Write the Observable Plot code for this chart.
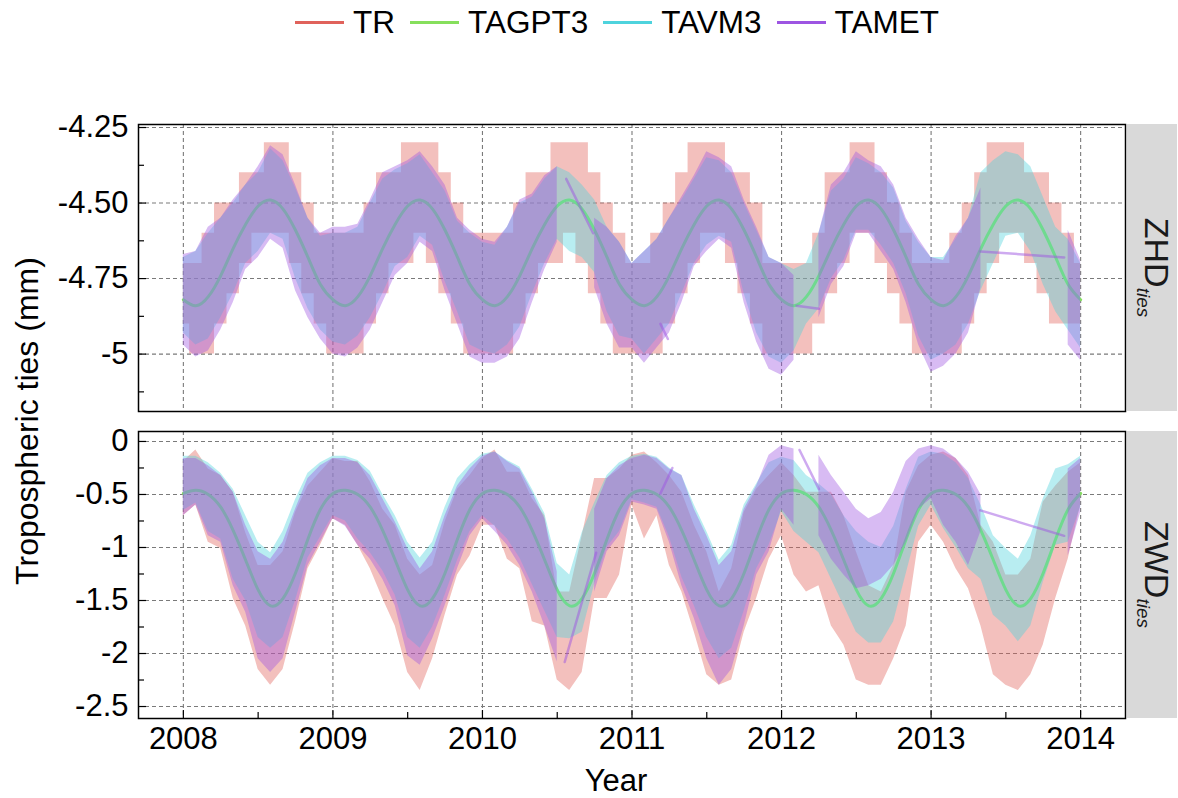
<!DOCTYPE html>
<html>
<head>
<meta charset="utf-8">
<script src="https://cdn.jsdelivr.net/npm/d3@7"></script>
<script src="https://cdn.jsdelivr.net/npm/@observablehq/plot@0.6"></script>
<style>
  body { margin: 0; background: #fff; }
  #wrap { position: relative; width: 1178px; height: 798px; overflow: hidden;
          font-family: "Liberation Sans", Arial, Helvetica, sans-serif; color: #000; }
  #legend { position: absolute; top: 4px; left: 295px; height: 36px; display: flex; align-items: center;
            font-size: 31.5px; white-space: nowrap; }
  #legend .sw { width: 49px; height: 3px; margin-right: 9px; }
  #legend .lb { margin-right: 15px; line-height: 36px; }
  svg.panel { position: absolute; left: 0; }
  #overlay { position: absolute; left: 0; top: 0; pointer-events: none; }
</style>
</head>
<body>
<div id="wrap">
  <div id="legend"></div>
</div>
<script>
// ---------------- data ----------------
const seriesNames = ["TR", "TAGPT3", "TAVM3", "TAMET"];
const seriesColors = ["#E0625B", "#86DF5C", "#4ED3DD", "#9D55E2"];

// monthly time index 2008.0 ... 2014.0
const months = d3.range(73).map(k => 2008 + k / 12);

const xTicks = [2008, 2009, 2010, 2011, 2012, 2013, 2014];
const xMinor = [2008.5, 2009.5, 2010.5, 2011.5, 2012.5, 2013.5];

const zhdTicks = [-4.25, -4.5, -4.75, -5];
const zhdTickLabels = ["-4.25", "-4.50", "-4.75", "-5"];
const zhdMinor = [-4.375, -4.625, -4.875, -5.125];

const zwdTicks = [0, -0.5, -1, -1.5, -2, -2.5];
const zwdTickLabels = ["0", "-0.5", "-1", "-1.5", "-2", "-2.5"];
const zwdMinor = [-0.25, -0.75, -1.25, -1.75, -2.25];

// ---- ZHD ties ----
const zhdGPT3 = [
  -4.82,-4.84,-4.81,-4.74,-4.65,-4.57,-4.51,-4.49,-4.52,-4.59,-4.68,-4.77,
  -4.82,-4.84,-4.81,-4.74,-4.65,-4.57,-4.51,-4.49,-4.52,-4.59,-4.68,-4.77,
  -4.82,-4.84,-4.81,-4.74,-4.65,-4.57,-4.51,-4.49,-4.52,-4.59,-4.68,-4.77,
  -4.82,-4.84,-4.81,-4.74,-4.65,-4.57,-4.51,-4.49,-4.52,-4.59,-4.68,-4.77,
  -4.82,-4.84,-4.81,-4.74,-4.65,-4.57,-4.51,-4.49,-4.52,-4.59,-4.68,-4.77,
  -4.82,-4.84,-4.81,-4.74,-4.65,-4.57,-4.51,-4.49,-4.52,-4.59,-4.68,-4.77,
  -4.82];
const zhdTRhi = [
  -4.7,-4.7,-4.6,-4.5,-4.5,-4.4,-4.4,-4.3,-4.3,-4.4,-4.5,-4.6,
  -4.6,-4.6,-4.6,-4.5,-4.4,-4.4,-4.3,-4.3,-4.3,-4.4,-4.5,-4.6,
  -4.6,-4.6,-4.6,-4.5,-4.4,-4.4,-4.3,-4.3,-4.3,-4.4,-4.5,-4.6,
  -4.7,-4.7,-4.6,-4.5,-4.4,-4.3,-4.3,-4.3,-4.4,-4.4,-4.5,-4.7,
  -4.7,-4.7,-4.7,-4.6,-4.4,-4.4,-4.3,-4.3,-4.4,-4.5,-4.6,-4.7,
  -4.7,-4.7,-4.6,-4.5,-4.4,-4.3,-4.3,-4.3,-4.4,-4.4,-4.5,-4.6,
  -4.7];
const zhdTRlo = [
  -4.9,-5.0,-5.0,-4.9,-4.8,-4.7,-4.6,-4.6,-4.6,-4.7,-4.8,-4.9,
  -5.0,-5.0,-5.0,-4.9,-4.8,-4.7,-4.7,-4.6,-4.7,-4.8,-4.9,-5.0,
  -5.0,-5.0,-5.0,-4.9,-4.8,-4.7,-4.7,-4.6,-4.7,-4.8,-4.9,-5.0,
  -5.0,-5.0,-5.0,-4.9,-4.8,-4.7,-4.6,-4.6,-4.7,-4.8,-4.9,-5.0,
  -5.0,-5.0,-5.0,-4.9,-4.8,-4.7,-4.6,-4.6,-4.7,-4.8,-4.9,-5.0,
  -5.0,-5.0,-5.0,-4.9,-4.8,-4.7,-4.6,-4.6,-4.7,-4.8,-4.9,-4.9,
  -4.9];
const zhdVM3hi = [
  -4.68,-4.66,-4.60,-4.55,-4.50,-4.44,-4.40,-4.32,-4.36,-4.45,-4.55,-4.61,
  -4.60,-4.60,-4.58,-4.50,-4.42,-4.39,-4.37,-4.34,-4.40,-4.46,-4.56,-4.60,
  -4.63,-4.64,-4.58,-4.50,-4.48,-4.42,-4.38,-4.40,-4.44,-4.49,-4.58,-4.63,
  -4.70,-4.66,-4.62,-4.55,-4.49,-4.42,-4.35,-4.36,-4.40,-4.50,-4.59,-4.68,
  -4.70,-4.72,-4.70,-4.60,-4.46,-4.42,-4.35,-4.37,-4.40,-4.45,-4.56,-4.63,
  -4.68,-4.68,-4.62,-4.55,-4.40,-4.36,-4.33,-4.34,-4.38,-4.48,-4.58,-4.62,
  -4.70];
const zhdVM3lo = [
  -4.93,-4.97,-4.95,-4.88,-4.80,-4.70,-4.66,-4.60,-4.62,-4.75,-4.85,-4.92,
  -4.96,-4.97,-4.94,-4.88,-4.80,-4.71,-4.68,-4.61,-4.64,-4.76,-4.86,-4.97,
  -4.99,-5.00,-4.97,-4.91,-4.80,-4.70,-4.62,-4.66,-4.68,-4.73,-4.86,-4.94,
  -4.95,-5.00,-4.95,-4.90,-4.80,-4.70,-4.64,-4.61,-4.63,-4.80,-4.93,-5.01,
  -5.03,-4.99,-4.90,-4.85,-4.75,-4.69,-4.59,-4.59,-4.64,-4.70,-4.80,-4.94,
  -5.02,-5.00,-4.97,-4.90,-4.79,-4.70,-4.61,-4.60,-4.66,-4.77,-4.86,-4.92,
  -4.98];
const zhdMEThi = [
  -4.67,-4.66,-4.58,-4.55,-4.49,-4.44,-4.38,-4.31,-4.34,-4.44,-4.55,-4.60,
  -4.58,-4.58,-4.57,-4.49,-4.40,-4.38,-4.36,-4.33,-4.38,-4.44,-4.55,-4.59,
  -4.62,-4.63,-4.58,-4.49,-4.47,-4.41,-4.38,null,null,-4.55,-4.58,-4.63,
  -4.70,-4.66,-4.62,-4.55,-4.48,-4.41,-4.33,-4.35,-4.38,-4.49,-4.58,-4.68,
  -4.70,-4.74,null,-4.60,-4.44,-4.40,-4.33,-4.36,-4.38,-4.44,-4.55,-4.62,
  -4.68,-4.69,-4.61,-4.55,-4.45,null,null,null,null,null,null,-4.59,
  -4.69];
const zhdMETlo = [
  -4.97,-5.01,-4.99,-4.92,-4.83,-4.72,-4.68,-4.62,-4.65,-4.79,-4.88,-4.95,
  -5.00,-5.01,-4.98,-4.92,-4.83,-4.74,-4.70,-4.63,-4.66,-4.79,-4.90,-5.01,
  -5.03,-5.03,-5.01,-4.95,-4.83,-4.72,-4.63,null,null,-4.78,-4.90,-4.98,
  -4.98,-5.03,-4.98,-4.93,-4.83,-4.71,-4.66,-4.62,-4.65,-4.83,-4.96,-5.05,
  -5.07,-5.02,null,-4.88,-4.77,-4.71,-4.60,-4.60,-4.66,-4.72,-4.83,-4.97,
  -5.06,-5.04,-5.00,-4.93,-4.78,null,null,null,null,null,null,-4.97,
  -5.02];
// straight TAMET segments bridging its data gaps
const zhdGapT = [2010.56, 2010.74, 2011.19, 2011.24, 2012.10, 2012.25, 2013.33, 2013.89];
const zhdGapV = [-4.42, -4.60, -4.90, -4.95, -4.84, -4.85, -4.66, -4.68];
const gapId   = [1, 1, 2, 2, 3, 3, 4, 4];

// ---- ZWD ties ----
const zwdGPT3 = [
  -0.49,-0.46,-0.50,-0.62,-0.84,-1.12,-1.40,-1.55,-1.48,-1.24,-0.92,-0.64,
  -0.49,-0.46,-0.50,-0.62,-0.84,-1.12,-1.40,-1.55,-1.48,-1.24,-0.92,-0.64,
  -0.49,-0.46,-0.50,-0.62,-0.84,-1.12,-1.40,-1.55,-1.48,-1.24,-0.92,-0.64,
  -0.49,-0.46,-0.50,-0.62,-0.84,-1.12,-1.40,-1.55,-1.48,-1.24,-0.92,-0.64,
  -0.49,-0.46,-0.50,-0.62,-0.84,-1.12,-1.40,-1.55,-1.48,-1.24,-0.92,-0.64,
  -0.49,-0.46,-0.50,-0.62,-0.84,-1.12,-1.40,-1.55,-1.48,-1.24,-0.92,-0.64,
  -0.49];
const zwdTRhi = [
  -0.19,-0.08,-0.26,-0.32,-0.48,-0.86,-1.17,-1.17,-1.04,-0.67,-0.42,-0.29,
  -0.16,-0.19,-0.19,-0.38,-0.64,-0.79,-1.11,-1.26,-1.17,-0.76,-0.45,-0.32,
  -0.16,-0.08,-0.29,-0.29,-0.54,-0.70,-1.42,-1.42,-0.89,-0.35,-0.35,-0.26,
  -0.13,-0.10,-0.20,-0.32,-0.48,-0.79,-1.04,-1.42,-1.20,-0.67,-0.45,-0.32,
  -0.20,-0.32,-0.48,-0.48,-0.48,-0.70,-1.04,-1.36,-1.42,-1.17,-0.48,-0.23,
  -0.13,-0.10,-0.16,-0.32,-0.79,-0.95,-1.26,-1.26,-1.11,-0.57,-0.42,-0.29,
  -0.20];
const zwdTRlo = [
  -0.70,-0.60,-0.95,-1.01,-1.48,-1.74,-2.15,-2.30,-2.15,-1.70,-1.20,-0.98,
  -0.73,-0.79,-0.98,-1.20,-1.48,-1.74,-2.18,-2.35,-2.05,-1.64,-1.26,-1.08,
  -0.79,-0.79,-1.11,-1.20,-1.70,-1.74,-2.25,-2.35,-2.18,-1.48,-1.48,-1.26,
  -0.60,-0.92,-0.70,-1.17,-1.42,-1.80,-2.20,-2.30,-2.25,-1.80,-1.48,-1.11,
  -0.89,-1.26,-1.42,-1.36,-1.74,-1.92,-2.25,-2.30,-2.30,-2.05,-1.74,-0.95,
  -0.79,-0.95,-1.20,-1.39,-1.74,-2.20,-2.30,-2.35,-2.20,-1.92,-1.48,-1.11,
  -0.60];
const zwdVM3hi = [
  -0.14,-0.14,-0.20,-0.30,-0.45,-0.70,-0.95,-1.05,-0.85,-0.55,-0.30,-0.20,
  -0.14,-0.14,-0.18,-0.28,-0.50,-0.70,-0.95,-1.10,-0.95,-0.62,-0.35,-0.22,
  -0.12,-0.10,-0.18,-0.24,-0.45,-0.68,-1.15,-1.26,-0.86,-0.58,-0.32,-0.20,
  -0.14,-0.12,-0.15,-0.25,-0.32,-0.60,-0.85,-1.12,-0.98,-0.60,-0.40,-0.20,
  -0.15,-0.18,-0.32,-0.40,-0.50,-0.70,-0.85,-0.95,-1.00,-0.80,-0.45,-0.15,
  -0.10,-0.12,-0.20,-0.35,-0.60,-0.89,-1.01,-1.11,-0.89,-0.54,-0.26,-0.22,
  -0.14];
const zwdVM3lo = [
  -0.65,-0.58,-0.85,-0.92,-1.30,-1.50,-1.85,-1.95,-1.85,-1.50,-1.10,-0.90,
  -0.70,-0.75,-0.92,-1.05,-1.22,-1.45,-1.85,-1.95,-1.75,-1.45,-1.12,-0.85,
  -0.70,-0.80,-0.92,-1.10,-1.35,-1.60,-1.85,-1.86,-1.80,-1.35,-1.00,-0.85,
  -0.55,-0.58,-0.62,-0.90,-1.28,-1.55,-1.85,-2.05,-1.95,-1.60,-1.20,-0.98,
  -0.66,-0.85,-0.95,-1.05,-1.30,-1.55,-1.80,-1.90,-1.90,-1.70,-1.25,-0.80,
  -0.60,-0.82,-1.00,-1.20,-1.30,-1.64,-1.74,-1.89,-1.74,-1.33,-0.98,-0.95,
  -0.62];
const zwdMEThi = [
  -0.16,-0.16,-0.23,-0.32,-0.48,-0.79,-1.04,-1.11,-0.95,-0.64,-0.35,-0.23,
  -0.16,-0.16,-0.20,-0.32,-0.54,-0.76,-1.01,-1.20,-1.04,-0.70,-0.42,-0.26,
  -0.14,-0.10,-0.19,-0.26,-0.48,-0.73,-1.23,null,null,-0.64,-0.35,-0.23,
  -0.16,-0.13,-0.16,-0.26,-0.32,-0.64,-0.89,-1.17,-1.04,-0.64,-0.42,-0.13,
  -0.04,-0.07,null,-0.13,-0.32,-0.48,-0.64,-0.73,-0.67,-0.48,-0.19,-0.07,
  -0.04,-0.07,-0.16,-0.29,-0.50,null,null,null,null,null,null,-0.26,
  -0.16];
const zwdMETlo = [
  -0.70,-0.60,-0.89,-0.95,-1.36,-1.61,-2.05,-2.18,-2.05,-1.61,-1.17,-0.95,
  -0.73,-0.80,-0.98,-1.11,-1.30,-1.55,-2.02,-2.11,-1.86,-1.55,-1.20,-0.89,
  -0.73,-0.85,-0.98,-1.17,-1.42,-1.74,-2.08,null,null,-1.42,-1.04,-0.89,
  -0.57,-0.60,-0.64,-0.95,-1.36,-1.67,-2.05,-2.30,-2.15,-1.74,-1.26,-1.04,
  -0.64,-0.79,null,-0.89,-1.11,-1.26,-1.39,-1.36,-1.30,-1.17,-0.95,-0.64,
  -0.54,-0.79,-0.95,-1.17,-0.85,null,null,null,null,null,null,-1.08,
  -0.67];
const zwdGapT = [2010.55, 2010.76, 2011.19, 2011.27, 2012.12, 2012.25, 2013.33, 2013.89];
const zwdGapV = [-2.08, -1.05, -0.49, -0.25, -0.08, -0.45, -0.65, -0.89];

// ---------------- build tables ----------------
function table(gpt, trLo, trHi, vmLo, vmHi, metLo, metHi) {
  return months.map((t, i) => ({
    t, gpt: gpt[i], trLo: trLo[i], trHi: trHi[i],
    vmLo: vmLo[i], vmHi: vmHi[i], metLo: metLo[i], metHi: metHi[i]
  }));
}
const zhdRows = table(zhdGPT3, zhdTRlo, zhdTRhi, zhdVM3lo, zhdVM3hi, zhdMETlo, zhdMEThi);
const zwdRows = table(zwdGPT3, zwdTRlo, zwdTRhi, zwdVM3lo, zwdVM3hi, zwdMETlo, zwdMEThi);
const zhdGaps = zhdGapT.map((t, i) => ({t, v: zhdGapV[i], id: gapId[i]}));
const zwdGaps = zwdGapT.map((t, i) => ({t, v: zwdGapV[i], id: gapId[i]}));

// ---------------- drawing ----------------
const W = 1178, ML = 138, MR = 53;
const FW = W - ML - MR;
const xDomain = [2007.7, 2014.3];
const col = Object.fromEntries(seriesNames.map((n, i) => [n, seriesColors[i]]));

function panel({rows, gaps, domain, ticks, labels, minor, height, mt, mb, showX, trCurve}) {
  const FH = height - mt - mb;
  const lab = new Map(ticks.map((d, i) => [d, labels[i]]));
  const marks = [
    Plot.ruleY(ticks, {stroke: "#7a7a7a", strokeWidth: 1.1, strokeDasharray: "4,3"}),
    Plot.ruleX(xTicks, {stroke: "#7a7a7a", strokeWidth: 1.1, strokeDasharray: "4,3"}),
    Plot.areaY(rows, {x: "t", y1: "trLo", y2: "trHi", fill: col.TR, fillOpacity: 0.4, curve: trCurve}),
    Plot.line(rows, {x: "t", y: "gpt", stroke: col.TAGPT3, strokeWidth: 3, curve: "natural"}),
    Plot.areaY(rows, {x: "t", y1: "vmLo", y2: "vmHi", fill: col.TAVM3, fillOpacity: 0.4}),
    Plot.areaY(rows, {x: "t", y1: "metLo", y2: "metHi", fill: col.TAMET, fillOpacity: 0.4}),
    Plot.line(gaps, {x: "t", y: "v", z: "id", stroke: col.TAMET, strokeOpacity: 0.5, strokeWidth: 2.5}),
    Plot.ruleY(ticks, {stroke: "#000", strokeWidth: 1.2, insetRight: FW - 8}),
    Plot.ruleY(minor, {stroke: "#000", strokeWidth: 1.2, insetRight: FW - 6}),
    Plot.axisY(ticks, {tickSize: 0, tickPadding: 10, tickFormat: d => lab.get(d), fontSize: 31, label: null})
  ];
  if (showX) {
    marks.push(
      Plot.ruleX(xTicks, {stroke: "#000", strokeWidth: 1.2, insetTop: FH - 8}),
      Plot.ruleX(xMinor, {stroke: "#000", strokeWidth: 1.2, insetTop: FH - 6}),
      Plot.axisX(xTicks, {tickSize: 0, tickPadding: 8, tickFormat: d => String(d), fontSize: 31, label: null})
    );
  }
  marks.push(Plot.frame({stroke: "#000", strokeWidth: 1.5}));
  return Plot.plot({
    width: W, height,
    marginLeft: ML, marginRight: MR, marginTop: mt, marginBottom: mb,
    x: showX ? {domain: xDomain} : {domain: xDomain, axis: null},
    y: {domain},
    style: {fontFamily: '"Liberation Sans", Arial, Helvetica, sans-serif', fontSize: "31px",
            background: "transparent", color: "#000", overflow: "visible"},
    marks
  });
}

const wrap = document.getElementById("wrap");

const p1 = panel({rows: zhdRows, gaps: zhdGaps, domain: [-5.19, -4.24], ticks: zhdTicks,
  labels: zhdTickLabels, minor: zhdMinor, height: 420, mt: 124, mb: 9, showX: false, trCurve: "step"});
p1.classList.add("panel"); p1.style.top = "0px";
wrap.appendChild(p1);

const p2 = panel({rows: zwdRows, gaps: zwdGaps, domain: [-2.613, 0.094], ticks: zwdTicks,
  labels: zwdTickLabels, minor: zwdMinor, height: 378, mt: 11, mb: 80, showX: true, trCurve: "linear"});
p2.classList.add("panel"); p2.style.top = "420px";
wrap.appendChild(p2);

// legend
const legend = document.getElementById("legend");
seriesNames.forEach((n, i) => {
  const sw = document.createElement("span");
  sw.className = "sw"; sw.style.background = seriesColors[i];
  const lb = document.createElement("span");
  lb.className = "lb"; lb.textContent = n;
  legend.appendChild(sw); legend.appendChild(lb);
});

// strips and axis titles
const ov = d3.select(wrap).append("svg").attr("id", "overlay").attr("width", W).attr("height", 798)
  .style("font-family", '"Liberation Sans", Arial, Helvetica, sans-serif');
const strips = [{main: "ZHD", y0: 124, y1: 411}, {main: "ZWD", y0: 431, y1: 718}];
strips.forEach(s => {
  ov.append("rect").attr("x", 1127).attr("y", s.y0).attr("width", 50).attr("height", s.y1 - s.y0).attr("fill", "#d9d9d9");
  const t = ov.append("text").attr("transform", `translate(1145,${(s.y0 + s.y1) / 2}) rotate(90)`)
    .attr("text-anchor", "middle").attr("font-size", 34).attr("fill", "#1a1a1a");
  t.append("tspan").text(s.main);
  t.append("tspan").attr("font-size", 19).attr("font-style", "italic").attr("dy", 8).text("ties");
});
ov.append("text").attr("transform", "translate(38,421) rotate(-90)").attr("text-anchor", "middle")
  .attr("font-size", 32).attr("fill", "#000").text("Tropospheric ties (mm)");
ov.append("text").attr("x", 616).attr("y", 791).attr("text-anchor", "middle")
  .attr("font-size", 31).attr("fill", "#000").text("Year");
</script>
</body>
</html>
